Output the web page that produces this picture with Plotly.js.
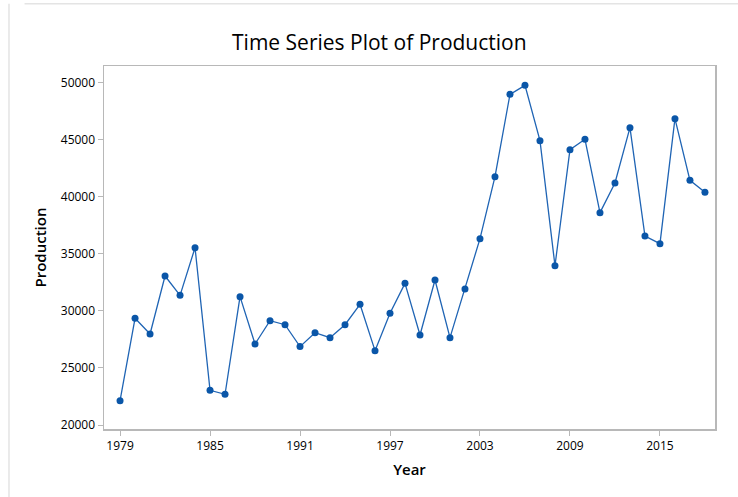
<!DOCTYPE html>
<html>
<head>
<meta charset="utf-8">
<script src="https://cdn.plot.ly/plotly-3.0.1.min.js"></script>
<style>html,body{margin:0;padding:0;background:#fff;}#chart{width:738px;height:497px;}</style>
</head>
<body>
<div id="chart"></div>
<script>
const years = [1979,1980,1981,1982,1983,1984,1985,1986,1987,1988,1989,1990,1991,1992,1993,1994,1995,1996,1997,1998,1999,2000,2001,2002,2003,2004,2005,2006,2007,2008,2009,2010,2011,2012,2013,2014,2015,2016,2017,2018];
const production = [22130,29350,27975,33060,31365,35540,23040,22690,31250,27100,29140,28790,26870,28090,27655,28790,30580,26515,29790,32415,27890,32710,27655,31920,36330,41760,48980,49770,44920,33960,44130,45040,38610,41210,46060,36560,35890,46850,41440,40390];
const xTicks = [1979,1985,1991,1997,2003,2009,2015];
const yTicks = [20000,25000,30000,35000,40000,45000,50000];

const font = "'Open Sans', 'Noto Sans', sans-serif";
Plotly.newPlot('chart', [{
  x: years, y: production, type: 'scatter', mode: 'lines+markers',
  line: {color: '#1f64b4', width: 1.3},
  marker: {color: '#0a56a8', size: 7},
  hoverinfo: 'x+y'
}], {
  width: 738, height: 497,
  margin: {l: 104, r: 23, t: 66, b: 68},
  paper_bgcolor: '#ffffff', plot_bgcolor: '#ffffff',
  showlegend: false,
  title: {text: 'Time Series Plot of Production', x: 0.514, xanchor: 'center', y: 0.915, yanchor: 'middle',
          font: {family: font, size: 21, color: '#000', weight: 500}},
  xaxis: {
    range: [1977.93, 2018.67], tickvals: xTicks, ticktext: xTicks.map(String),
    showgrid: false, zeroline: false, showline: true, mirror: true,
    linecolor: '#b8b8b8', linewidth: 1.5, ticks: 'outside', ticklen: 5, tickcolor: '#b8b8b8',
    tickfont: {family: font, size: 12, color: '#000', weight: 500},
    title: {text: 'Year', font: {family: font, size: 15, color: '#000', weight: 600}, standoff: 11}
  },
  yaxis: {
    range: [19650, 51463], tickvals: yTicks, ticktext: yTicks.map(String),
    showgrid: false, zeroline: false, showline: true, mirror: true,
    linecolor: '#b8b8b8', linewidth: 1.5, ticks: 'outside', ticklen: 5, tickcolor: '#b8b8b8',
    tickfont: {family: font, size: 12, color: '#000', weight: 500},
    title: {text: 'Production', font: {family: font, size: 15, color: '#000', weight: 600}, standoff: 10}
  },
  shapes: [
    {type: 'line', xref: 'paper', yref: 'paper', x0: -0.130, x1: 1.04, y0: 1.1715, y1: 1.1715, line: {color: '#e4e4e4', width: 1.5}},
    {type: 'line', xref: 'paper', yref: 'paper', x0: -0.1555, x1: -0.1555, y0: 1.1715, y1: -0.2, line: {color: '#e4e4e4', width: 1.5}}
  ]
}, {displayModeBar: false, staticPlot: true});
</script>
</body>
</html>
